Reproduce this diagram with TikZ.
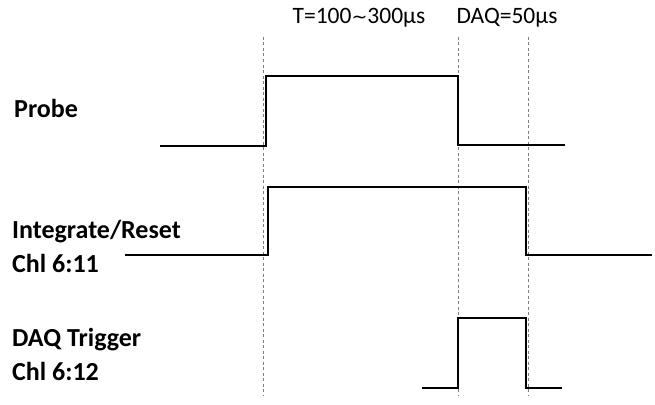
\documentclass[tikz,border=0pt]{standalone}
\usepackage{fontspec}
\setmainfont{Carlito}
\newfontfamily\symfont{DejaVu Sans}
\usetikzlibrary{positioning}

\begin{document}
\begin{tikzpicture}[
            x=1pt, y=-1pt,
            lbl/.style={font=\fontsize{26}{30}\selectfont\bfseries, anchor=west, inner sep=0pt},
            time/.style={font=\fontsize{23.5}{28}\selectfont, inner sep=0pt},
            sig/.style={line width=1.5pt, line join=miter},
            mark line/.style={gray, dashed, dash pattern=on 3pt off 2.5pt, line width=0.7pt}
        ]
        \useasboundingbox (0,0) rectangle (655,404);

        % time markers
        \coordinate (t1) at (263,37);
        \coordinate (t2) at (458,37);
        \coordinate (t3) at (528,37);
        \draw[mark line] (t1) -- ++(0,358);
        \draw[mark line] (t2) -- ++(0,358);
        \draw[mark line] (t3) -- ++(0,358);

        \node[time] (width) at (359,18) {T=100{\symfont\fontsize{19}{22}\selectfont ∼}300µs};
        \node[time] (daq) at (507,18) {DAQ=50µs};

        % signal names
        \node[lbl] (probe) at (14,108) {Probe};
        \node[lbl] (intg) at (12,232) {Integrate/Reset};
        \node[lbl] (chl11) at (12,263) {Chl 6:11};
        \node[lbl] (trig) at (12,340) {DAQ Trigger};
        \node[lbl] (chl12) at (12,371) {Chl 6:12};

        % waveforms
        \draw[sig] (160,146) -- (266,146) -- (266,76) -- (458,76) -- (458,145) -- (565,145);
        \draw[sig] (125,255) -- (268,255) -- (268,187) -- (526,187) -- (526,255) -- (652,255);
        \draw[sig] (422,388) -- (458,388) -- (458,318) -- (526,318) -- (526,388) -- (562,388);
    \end{tikzpicture}
\end{document}
